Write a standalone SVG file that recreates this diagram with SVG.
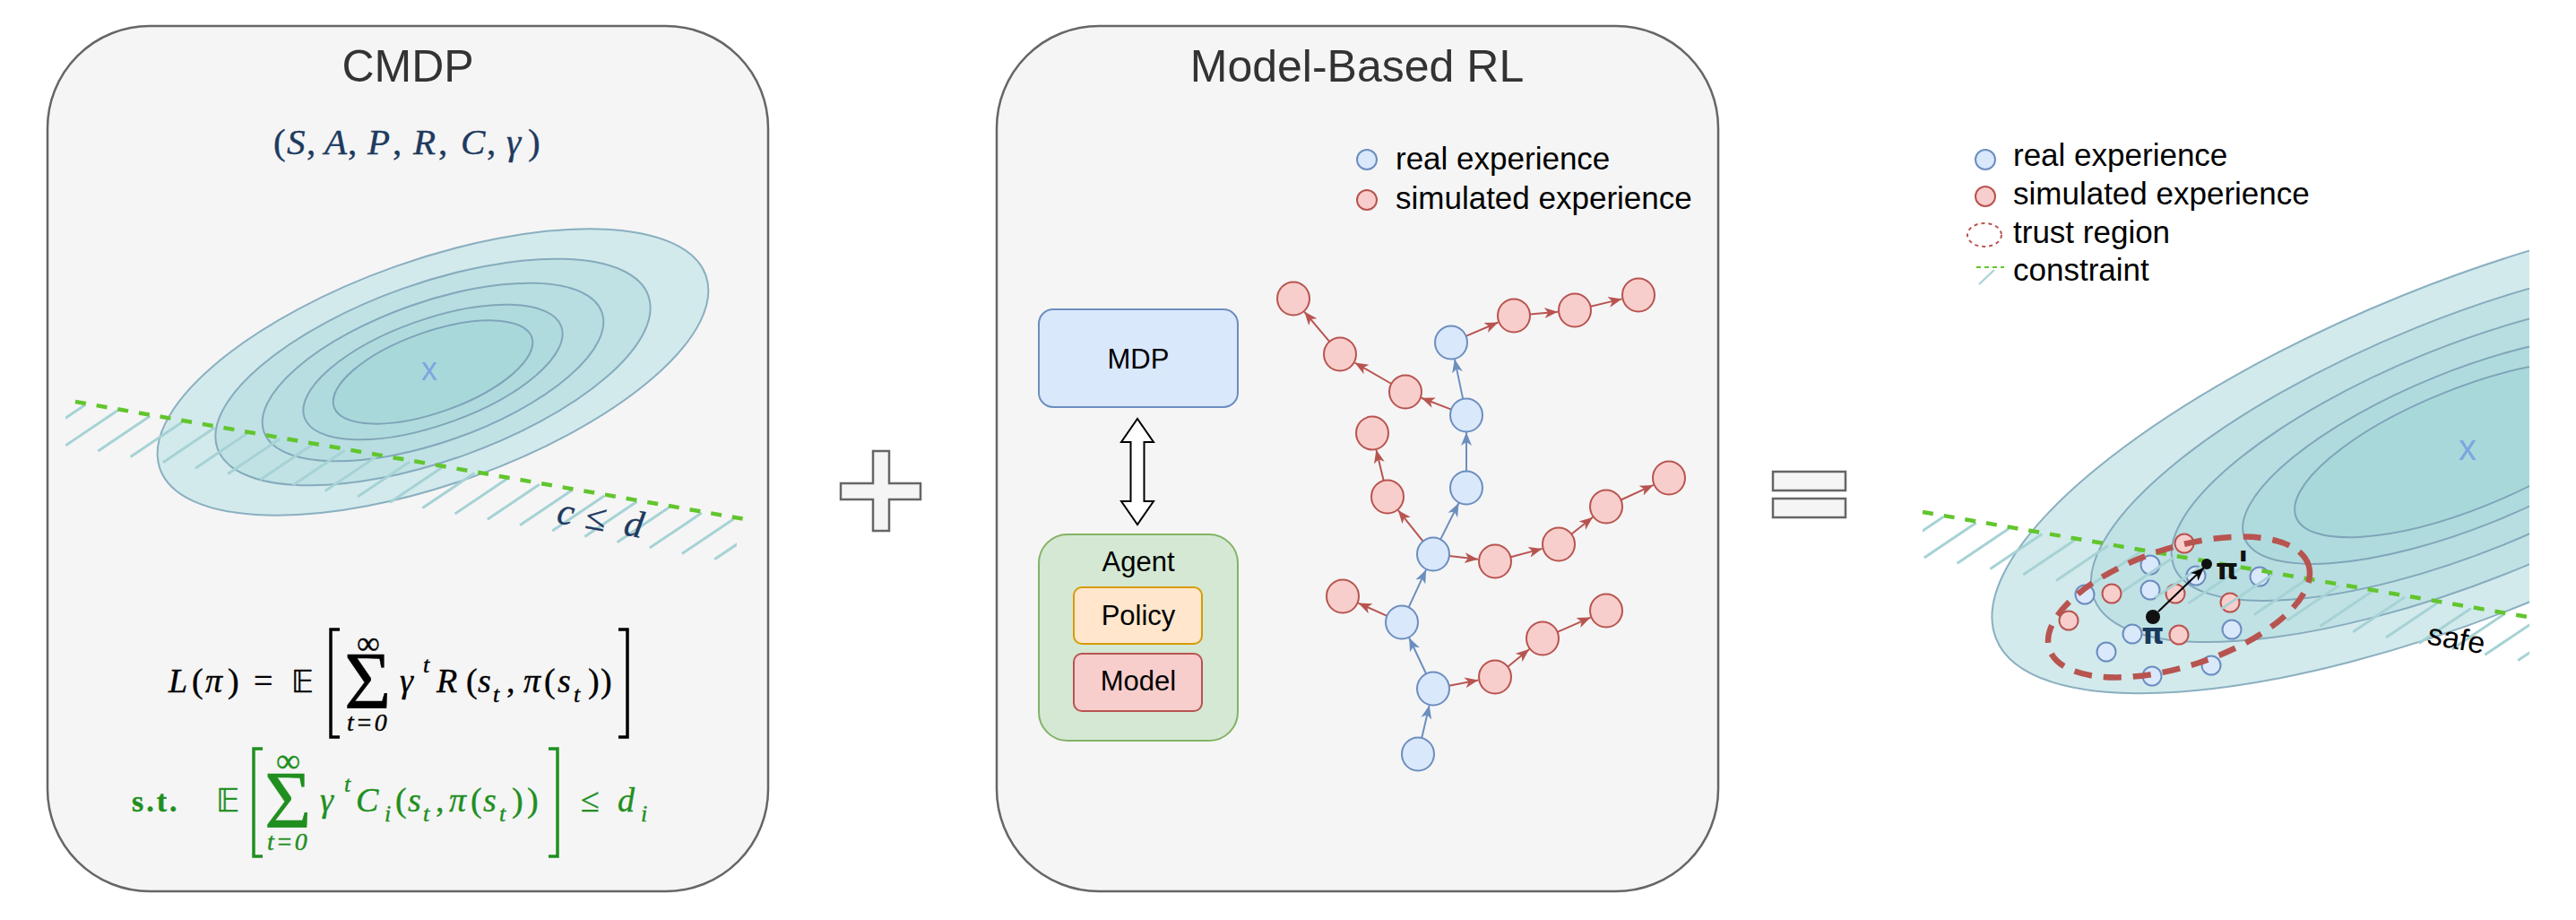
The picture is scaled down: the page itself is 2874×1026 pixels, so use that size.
<svg xmlns="http://www.w3.org/2000/svg" width="2874" height="1026" viewBox="0 0 2874 1026">
<style>
.panel{fill:#f5f5f5;stroke:#666666;stroke-width:2.5}
.title{font-family:"Liberation Sans",Arial,sans-serif;font-size:50px;fill:#333333;text-anchor:middle}
.lbl{font-family:"Liberation Sans",Arial,sans-serif;font-size:31px;fill:#000000;text-anchor:middle}
.leg{font-family:"Liberation Sans",Arial,sans-serif;font-size:35px;fill:#000000}
.m{font-family:"Liberation Serif","Times New Roman",serif}
.i{font-style:italic}
.bb{font-family:"DejaVu Sans","DejaVu Serif",sans-serif}
.e1{fill:#d2eaec;stroke:#8aafc0;stroke-width:2}
.e2{fill:#c1e2e5;stroke:#86abbd;stroke-width:2}
.e3{fill:#b8dee1;stroke:#82a8bb;stroke-width:2}
.e4{fill:#b0dbde;stroke:#80a6b9;stroke-width:2}
.e5{fill:#a9d8db;stroke:#7ea4b8;stroke-width:2}
.hatch{stroke:#a6d2d5;stroke-width:3;fill:none}
.cons{stroke:#62c52e;stroke-width:4.5;stroke-dasharray:12 12;fill:none}
.bn{fill:#dae8fc;stroke:#6c8ebf;stroke-width:2}
.rn{fill:#f8cecc;stroke:#b85450;stroke-width:2}
.be{stroke:#6c8ebf;stroke-width:2;fill:none;marker-end:url(#ab)}
.re{stroke:#b85450;stroke-width:2;fill:none;marker-end:url(#ar)}
.brk{fill:none;stroke-width:3.5}
</style>
<defs>
<marker id="ab" markerUnits="userSpaceOnUse" markerWidth="16" markerHeight="14" viewBox="0 0 16 14" refX="15" refY="7" orient="auto"><path d="M0,1 L15,7 L0,13 L4,7 Z" fill="#6c8ebf"/></marker>
<marker id="ar" markerUnits="userSpaceOnUse" markerWidth="16" markerHeight="14" viewBox="0 0 16 14" refX="15" refY="7" orient="auto"><path d="M0,1 L15,7 L0,13 L4,7 Z" fill="#b85450"/></marker>
<marker id="ak" markerUnits="userSpaceOnUse" markerWidth="16" markerHeight="14" viewBox="0 0 16 14" refX="15" refY="7" orient="auto"><path d="M0,1 L15,7 L0,13 L4,7 Z" fill="#000000"/></marker>
<clipPath id="clipL"><rect x="73" y="0" width="749" height="1026"/></clipPath>
<clipPath id="clipR"><rect x="2145" y="0" width="677" height="1026"/></clipPath>
<clipPath id="clipRE"><rect x="0" y="0" width="2822" height="1026"/></clipPath>
</defs>
<rect x="0" y="0" width="2874" height="1026" fill="#ffffff"/>

<!-- CMDP panel -->
<g id="cmdp">
<rect class="panel" x="53" y="29" width="804" height="965" rx="114" ry="114"/>
<text class="title" x="455" y="91">CMDP</text>
<text class="m" font-size="41" fill="#1e3a5f" stroke="#1e3a5f" stroke-width="0.4"><tspan x="305" y="172">(</tspan><tspan class="i" x="320">S</tspan><tspan x="342">,</tspan><tspan class="i" x="362">A</tspan><tspan x="388">,</tspan><tspan class="i" x="410">P</tspan><tspan x="438">,</tspan><tspan class="i" x="461">R</tspan><tspan x="489">,</tspan><tspan class="i" x="514">C</tspan><tspan x="543">,</tspan><tspan class="i" x="565">γ</tspan><tspan x="589">)</tspan></text>
<g id="contoursL" transform="translate(483,415) rotate(-19.5)">
<ellipse class="e1" cx="0" cy="0" rx="323" ry="125"/>
<ellipse class="e2" cx="0" cy="0" rx="255" ry="99"/>
<ellipse class="e3" cx="0" cy="0" rx="200" ry="78"/>
<ellipse class="e4" cx="0" cy="0" rx="152" ry="59"/>
<ellipse class="e5" cx="0" cy="0" rx="117" ry="45"/>
</g>
<text x="479" y="424" font-family="Liberation Sans,Arial,sans-serif" font-size="36" fill="#7ea6e0" text-anchor="middle">x</text>
<g clip-path="url(#clipL)">
<path class="hatch" d="M95,451.4 l-58,39 M131.2,457.8 l-58,39 M167.4,464.1 l-58,39 M203.6,470.5 l-58,39 M239.8,476.8 l-58,39 M276,483.2 l-58,39 M312.2,489.5 l-58,39 M348.4,495.9 l-58,39 M384.6,502.2 l-58,39 M420.8,508.6 l-58,39 M457,514.9 l-58,39 M493.2,521.3 l-58,39 M529.4,527.6 l-58,39 M565.6,534 l-58,39 M601.8,540.3 l-58,39 M638,546.7 l-58,39 M674.2,553 l-58,39 M710.4,559.4 l-58,39 M746.6,565.7 l-58,39 M782.8,572.1 l-58,39 M819,578.4 l-58,39 M855.2,584.8 l-58,39"/>
</g>
<line class="cons" x1="84" y1="448" x2="831" y2="579"/>
<text class="m" font-size="42" fill="#1e3a5f" stroke="#1e3a5f" stroke-width="0.4" transform="rotate(10 620 583)"><tspan class="i" x="620" y="583">c</tspan><tspan x="652">≤</tspan><tspan class="i" x="696">d</tspan></text>
</g>

<g id="objective">
<text class="m" font-size="38" fill="#000000" stroke="#000000" stroke-width="0.4"><tspan class="i" x="188" y="772">L</tspan><tspan x="214">(</tspan><tspan class="i" x="229">π</tspan><tspan x="254">)</tspan><tspan x="283">=</tspan><tspan class="bb" x="325" font-size="34">𝔼</tspan><tspan x="398" y="729" font-size="36">∞</tspan><tspan x="384" y="790" font-size="90">Σ</tspan><tspan class="i" x="387" y="815" font-size="28" letter-spacing="2">t=0</tspan><tspan class="i" x="446" y="772">γ</tspan><tspan class="i" x="472" y="750" font-size="26">t</tspan><tspan class="i" x="487" y="772">R</tspan><tspan x="520">(</tspan><tspan class="i" x="533">s</tspan><tspan class="i" x="550" y="783" font-size="26">t</tspan><tspan x="565" y="772">,</tspan><tspan class="i" x="584">π</tspan><tspan x="607">(</tspan><tspan class="i" x="622">s</tspan><tspan class="i" x="640" y="783" font-size="26">t</tspan><tspan x="656" y="772">)</tspan><tspan x="670">)</tspan></text>
<polyline class="brk" stroke="#000000" points="379,702 369,702 369,822 379,822"/>
<polyline class="brk" stroke="#000000" points="690,702 700,702 700,822 690,822"/>
</g>

<g id="constraint">
<text class="m" font-size="38" fill="#1f8f1f" stroke="#1f8f1f" stroke-width="0.4"><tspan font-weight="bold" font-size="34" x="147" y="905" letter-spacing="3">s.t.</tspan><tspan class="bb" x="241" font-size="36">𝔼</tspan><tspan x="308" y="861" font-size="38">∞</tspan><tspan x="295" y="923" font-size="90">Σ</tspan><tspan class="i" x="298" y="948" font-size="28" letter-spacing="2">t=0</tspan><tspan class="i" x="357" y="905">γ</tspan><tspan class="i" x="384" y="883" font-size="26">t</tspan><tspan class="i" x="397" y="905">C</tspan><tspan class="i" x="429" y="916" font-size="26">i</tspan><tspan x="441" y="905">(</tspan><tspan class="i" x="455">s</tspan><tspan class="i" x="472" y="916" font-size="26">t</tspan><tspan x="486" y="905">,</tspan><tspan class="i" x="501">π</tspan><tspan x="525">(</tspan><tspan class="i" x="539">s</tspan><tspan class="i" x="557" y="916" font-size="26">t</tspan><tspan x="571" y="905">)</tspan><tspan x="588">)</tspan><tspan x="648">≤</tspan><tspan class="i" x="689">d</tspan><tspan class="i" x="715" y="916" font-size="26">i</tspan></text>
<polyline class="brk" stroke="#1f8f1f" points="293,835 283,835 283,955 293,955"/>
<polyline class="brk" stroke="#1f8f1f" points="612,835 622,835 622,955 612,955"/>
</g>

<!-- plus -->
<g id="plus">
<polygon class="panel" points="974,503 992,503 992,539 1027,539 1027,557 992,557 992,592 974,592 974,557 938,557 938,539 974,539"/>
</g>

<!-- Model-based RL panel -->
<g id="mbrl">
<rect class="panel" x="1112" y="29" width="805" height="965" rx="114" ry="114"/>
<text class="title" x="1514" y="91">Model-Based RL</text>
<ellipse class="bn" cx="1525" cy="178" rx="11" ry="11"/>
<text class="leg" x="1557" y="189">real experience</text>
<ellipse class="rn" cx="1525" cy="223" rx="11" ry="11"/>
<text class="leg" x="1557" y="233">simulated experience</text>
</g>
<g id="mdp">
<rect x="1159" y="345" width="222" height="109" rx="16" fill="#dae8fc" stroke="#6c8ebf" stroke-width="2"/>
<text class="lbl" x="1270" y="411">MDP</text>
</g>
<g id="dblarrow">
<polygon points="1269,467 1287,493 1276.5,493 1276.5,559 1287,559 1269,585 1251,559 1261.5,559 1261.5,493 1251,493" fill="#ffffff" stroke="#000000" stroke-width="2"/>
</g>
<g id="agent">
<rect x="1159" y="596" width="222" height="230" rx="32" fill="#d5e8d4" stroke="#82b366" stroke-width="2"/>
<text class="lbl" x="1270" y="637">Agent</text>
</g>
<g id="policy">
<rect x="1198" y="655" width="143" height="63" rx="9" fill="#ffe6cc" stroke="#d79b00" stroke-width="2"/>
<text class="lbl" x="1270" y="697">Policy</text>
</g>
<g id="model">
<rect x="1198" y="729" width="143" height="64" rx="9" fill="#f8cecc" stroke="#b85450" stroke-width="2"/>
<text class="lbl" x="1270" y="770">Model</text>
</g>

<g id="connectors">
<line class="be" x1="1586.1" y1="823.5" x2="1594.7" y2="786.5"/>
<line class="be" x1="1591.3" y1="751.7" x2="1572.1" y2="711.2"/>
<line class="re" x1="1616.7" y1="764.7" x2="1649.3" y2="758.5"/>
<line class="re" x1="1682" y1="743.7" x2="1706.2" y2="724"/>
<line class="re" x1="1737.5" y1="704.8" x2="1774.6" y2="688.6"/>
<line class="re" x1="1547.5" y1="686.8" x2="1515.4" y2="672.6"/>
<line class="be" x1="1571.5" y1="677.7" x2="1591.1" y2="635.3"/>
<line class="re" x1="1587.8" y1="603.9" x2="1559.8" y2="568.9"/>
<line class="re" x1="1543.8" y1="536.5" x2="1535.4" y2="501.5"/>
<line class="be" x1="1607" y1="601.9" x2="1627.5" y2="561"/>
<line class="re" x1="1616.9" y1="620.1" x2="1649.1" y2="623.8"/>
<line class="re" x1="1685.4" y1="621.3" x2="1720.6" y2="611.9"/>
<line class="re" x1="1753.1" y1="595.8" x2="1777.1" y2="576.8"/>
<line class="re" x1="1808.4" y1="557.5" x2="1844.7" y2="540.9"/>
<line class="be" x1="1636" y1="526" x2="1636" y2="482"/>
<line class="re" x1="1619.2" y1="456.6" x2="1585.7" y2="443.8"/>
<line class="re" x1="1552.4" y1="428" x2="1511.5" y2="404.5"/>
<line class="re" x1="1483.4" y1="381.2" x2="1455.2" y2="347.6"/>
<line class="be" x1="1632.3" y1="445.4" x2="1622.9" y2="400.6"/>
<line class="re" x1="1635.5" y1="374.9" x2="1671.5" y2="359.5"/>
<line class="re" x1="1706.9" y1="350.4" x2="1738.1" y2="347.7"/>
<line class="re" x1="1774.5" y1="341.8" x2="1809.5" y2="333.4"/>
</g>

<g id="B7"><ellipse class="bn" cx="1582" cy="841" rx="18" ry="18.5"/></g>
<g id="B6"><ellipse class="bn" cx="1599" cy="768" rx="18" ry="18.5"/></g>
<g id="B5"><ellipse class="bn" cx="1564" cy="694" rx="18" ry="18.5"/></g>
<g id="B4"><ellipse class="bn" cx="1599" cy="618" rx="18" ry="18.5"/></g>
<g id="B3"><ellipse class="bn" cx="1636" cy="544" rx="18" ry="18.5"/></g>
<g id="B2"><ellipse class="bn" cx="1636" cy="463" rx="18" ry="18.5"/></g>
<g id="B1"><ellipse class="bn" cx="1619" cy="382" rx="18" ry="18.5"/></g>
<g id="R13"><ellipse class="rn" cx="1498" cy="665" rx="18" ry="18.5"/></g>
<g id="R14"><ellipse class="rn" cx="1668" cy="755" rx="18" ry="18.5"/></g>
<g id="R15"><ellipse class="rn" cx="1721" cy="712" rx="18" ry="18.5"/></g>
<g id="R16"><ellipse class="rn" cx="1792" cy="681" rx="18" ry="18.5"/></g>
<g id="R9"><ellipse class="rn" cx="1668" cy="626" rx="18" ry="18.5"/></g>
<g id="R10"><ellipse class="rn" cx="1739" cy="607" rx="18" ry="18.5"/></g>
<g id="R11"><ellipse class="rn" cx="1792" cy="565" rx="18" ry="18.5"/></g>
<g id="R12"><ellipse class="rn" cx="1862" cy="533" rx="18" ry="18.5"/></g>
<g id="R8"><ellipse class="rn" cx="1548" cy="554" rx="18" ry="18.5"/></g>
<g id="R7"><ellipse class="rn" cx="1531" cy="483" rx="18" ry="18.5"/></g>
<g id="R3"><ellipse class="rn" cx="1568" cy="437" rx="18" ry="18.5"/></g>
<g id="R2"><ellipse class="rn" cx="1495" cy="395" rx="18" ry="18.5"/></g>
<g id="R1"><ellipse class="rn" cx="1443" cy="333" rx="18" ry="18.5"/></g>
<g id="R4"><ellipse class="rn" cx="1689" cy="352" rx="18" ry="18.5"/></g>
<g id="R5"><ellipse class="rn" cx="1757" cy="346" rx="18" ry="18.5"/></g>
<g id="R6"><ellipse class="rn" cx="1828" cy="329" rx="18" ry="18.5"/></g>

<!-- equals -->
<g id="equals">
<rect class="panel" x="1978" y="526" width="81" height="21"/>
<rect class="panel" x="1978" y="556" width="81" height="21"/>
</g>

<!-- right panel -->
<g id="legendR">
<ellipse class="bn" cx="2215" cy="178" rx="11" ry="11"/>
<text class="leg" x="2246" y="185">real experience</text>
<ellipse class="rn" cx="2215" cy="219" rx="11" ry="11"/>
<text class="leg" x="2246" y="228">simulated experience</text>
<ellipse cx="2214" cy="262" rx="19" ry="13" fill="none" stroke="#b85450" stroke-width="2" stroke-dasharray="4 4"/>
<text class="leg" x="2246" y="271">trust region</text>
<line x1="2205" y1="298" x2="2236" y2="298" stroke="#62c52e" stroke-width="2" stroke-dasharray="5 4"/>
<line x1="2225" y1="301" x2="2208" y2="317" stroke="#a6d2d5" stroke-width="2"/>
<text class="leg" x="2246" y="313">constraint</text>
</g>

<g id="safeRegion">
<g clip-path="url(#clipRE)">
<g transform="translate(2750,501) rotate(-22)">
<ellipse class="e1" cx="0" cy="0" rx="564" ry="185"/>
<ellipse class="e2" cx="0" cy="0" rx="446" ry="146"/>
<ellipse class="e3" cx="0" cy="0" rx="350" ry="115"/>
<ellipse class="e4" cx="0" cy="0" rx="265" ry="87"/>
<ellipse class="e5" cx="0" cy="0" rx="203" ry="67"/>
</g>
</g>
<text x="2753" y="513" font-family="Liberation Sans,Arial,sans-serif" font-size="40" fill="#7ea6e0" text-anchor="middle">x</text>
<g id="samples">
<ellipse class="rn" cx="2437" cy="606" rx="10.5" ry="10.5"/>
<ellipse class="rn" cx="2356" cy="662" rx="10.5" ry="10.5"/>
<ellipse class="rn" cx="2427" cy="662" rx="10.5" ry="10.5"/>
<ellipse class="rn" cx="2488" cy="672" rx="10.5" ry="10.5"/>
<ellipse class="rn" cx="2308" cy="692" rx="10.5" ry="10.5"/>
<ellipse class="rn" cx="2431" cy="708" rx="10.5" ry="10.5"/>
<ellipse class="bn" cx="2399" cy="630" rx="10.5" ry="10.5"/>
<ellipse class="bn" cx="2450" cy="642" rx="10.5" ry="10.5"/>
<ellipse class="bn" cx="2521" cy="643" rx="10.5" ry="10.5"/>
<ellipse class="bn" cx="2326" cy="663" rx="10.5" ry="10.5"/>
<ellipse class="bn" cx="2399" cy="658" rx="10.5" ry="10.5"/>
<ellipse class="bn" cx="2379" cy="707" rx="10.5" ry="10.5"/>
<ellipse class="bn" cx="2490" cy="702" rx="10.5" ry="10.5"/>
<ellipse class="bn" cx="2350" cy="727" rx="10.5" ry="10.5"/>
<ellipse class="bn" cx="2467" cy="742" rx="10.5" ry="10.5"/>
<ellipse class="bn" cx="2401" cy="754" rx="10.5" ry="10.5"/>
</g>
<g clip-path="url(#clipR)">
<path class="hatch" d="M2168,576.5 l-58,39 M2204.8,582.9 l-58,39 M2241.6,589.2 l-58,39 M2278.4,595.6 l-58,39 M2315.2,602 l-58,39 M2352,608.4 l-58,39 M2388.8,614.8 l-58,39 M2425.6,621.1 l-58,39 M2462.4,627.5 l-58,39 M2499.2,633.9 l-58,39 M2536,640.3 l-58,39 M2572.8,646.6 l-58,39 M2609.6,653 l-58,39 M2646.4,659.4 l-58,39 M2683.2,665.8 l-58,39 M2720,672.1 l-58,39 M2756.8,678.5 l-58,39 M2793.6,684.9 l-58,39 M2830.4,691.3 l-58,39 M2867.2,697.6 l-58,39"/>
</g>
<line class="cons" x1="2145" y1="571" x2="2820" y2="688"/>
<text x="2707" y="718" font-family="Liberation Sans,Arial,sans-serif" font-size="34" fill="#000000" transform="rotate(10 2707 718)">safe</text>
<ellipse cx="2431" cy="677" rx="152" ry="66" transform="rotate(-18 2431 677)" fill="none" stroke="#b85450" stroke-width="6.5" stroke-dasharray="20 13"/>
<line x1="2408" y1="682" x2="2459" y2="633" stroke="#000000" stroke-width="2" marker-end="url(#ak)"/>
<circle cx="2402" cy="688" r="8" fill="#111111"/>
<circle cx="2462" cy="629" r="6" fill="#111111"/>
<text x="2402" y="718" font-family="DejaVu Sans,sans-serif" font-weight="bold" font-size="32" fill="#1b3a5c" text-anchor="middle">π</text>
<text font-family="DejaVu Sans,sans-serif" font-weight="bold" font-size="32" fill="#111111"><tspan x="2472" y="646">π</tspan><tspan x="2496" y="647" font-size="44" font-style="italic">'</tspan></text>
</g>
</svg>
